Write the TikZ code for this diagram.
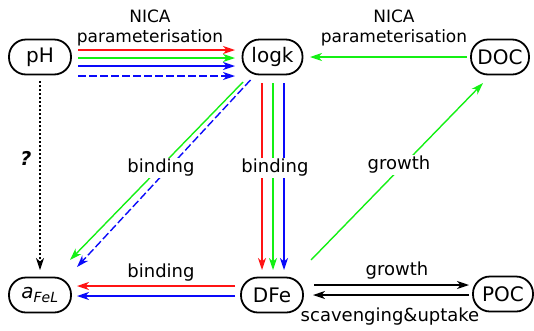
\documentclass[tikz,border=0pt]{standalone}
\usepackage{fontspec}
\setmainfont{DejaVu Sans}
\usetikzlibrary{arrows.meta,calc}
\definecolor{cred}{RGB}{255,20,20}
\definecolor{cgreen}{RGB}{20,240,20}
\definecolor{cblue}{RGB}{10,10,250}
\begin{document}
\begin{tikzpicture}[x=1pt,y=-1pt,
  box/.style={draw,line width=1.8pt,rounded corners=17pt,minimum width=62pt,minimum height=35pt,inner sep=0pt,font=\fontsize{20}{22}\selectfont},
  conn/.style={line width=1.4pt,-{Stealth[length=12pt,width=8pt,inset=3.5pt]}},
  lab/.style={font=\fontsize{18}{20}\selectfont,inner sep=1pt},
  nica/.style={font=\fontsize{17}{20}\selectfont,align=center,inner sep=0pt},
  dsh/.style={dash pattern=on 8pt off 3pt},
  dtt/.style={dash pattern=on 1.5pt off 2.5pt}]
\useasboundingbox (0,0) rectangle (534,330);
\node[box] (pH) at (40,57) {pH};
\node[box,minimum width=60pt] (logk) at (272.5,57) {logk};
\node[box,minimum width=58pt] (DOC) at (500,57) {DOC};
\node[box] (aFeL) at (40,295) {\textit{a}\textsubscript{\textit{FeL}}};
\node[box] (DFe) at (272,295) {DFe};
\node[box,minimum width=60pt] (POC) at (503,294) {POC};
% pH -> logk
\draw[conn,cred] ($(pH)+(38,-7)$) -- ($(logk)+(-37.5,-7)$);
\draw[conn,cgreen] ($(pH)+(38,1)$) -- ($(logk)+(-37.5,1)$);
\draw[conn,cblue] ($(pH)+(38,9)$) -- ($(logk)+(-37.5,9)$);
\draw[conn,cblue,dsh] ($(pH)+(38,19)$) -- ($(logk)+(-37.5,19)$);
\node[nica] (nica1) at (150,28) {NICA\\parameterisation};
% DOC -> logk
\draw[conn,cgreen] ($(DOC)+(-33,0)$) -- ($(logk)+(37.5,0)$);
\node[nica] (nica2) at (394,28) {NICA\\parameterisation};
% pH -> aFeL
\draw[conn,black,dtt,line width=1.1pt] ($(pH)+(0,24)$) -- ($(aFeL)+(0,-25)$);
\node[font=\fontsize{19}{20}\selectfont\bfseries\itshape] (q) at (26,158) {?};
% logk -> DFe
\draw[conn,cred] ($(logk)+(-10.5,26)$) -- ($(DFe)+(-10,-25)$);
\draw[conn,cgreen] ($(logk)+(0.5,26)$) -- ($(DFe)+(1,-25)$);
\draw[conn,cblue] ($(logk)+(11.5,26)$) -- ($(DFe)+(12,-25)$);
\node[lab,fill=white] (b2) at (275,168) {binding};
% logk -> aFeL diagonals
\draw[conn,cgreen] ($(logk)+(-29.5,25)$) -- ($(aFeL)+(30,-35)$);
\draw[conn,cblue,dsh] ($(logk)+(-22,23)$) -- ($(aFeL)+(37,-28)$);
\node[lab,fill=white] (b1) at (161,168) {binding};
% DFe -> aFeL
\draw[conn,cred] ($(DFe)+(-37,-9)$) -- ($(aFeL)+(37,-9)$);
\draw[conn,cblue] ($(DFe)+(-37,1)$) -- ($(aFeL)+(37,1)$);
\node[lab] (b3) at (161,273) {binding};
% DFe -> DOC growth
\draw[conn,cgreen] ($(DFe)+(39,-35)$) -- ($(DOC)+(-17,26)$);
\node[lab,fill=white] (g1) at (399,165) {growth};
% DFe <-> POC
\draw[conn,black] ($(DFe)+(42,-10)$) -- ($(POC)+(-34,-9)$);
\draw[conn,black] ($(POC)+(-34,1)$) -- ($(DFe)+(41,0)$);
\node[lab] (g2) at (397,271) {growth};
\node[lab] (sc) at (390,317) {scavenging\&uptake};
\end{tikzpicture}
\end{document}
